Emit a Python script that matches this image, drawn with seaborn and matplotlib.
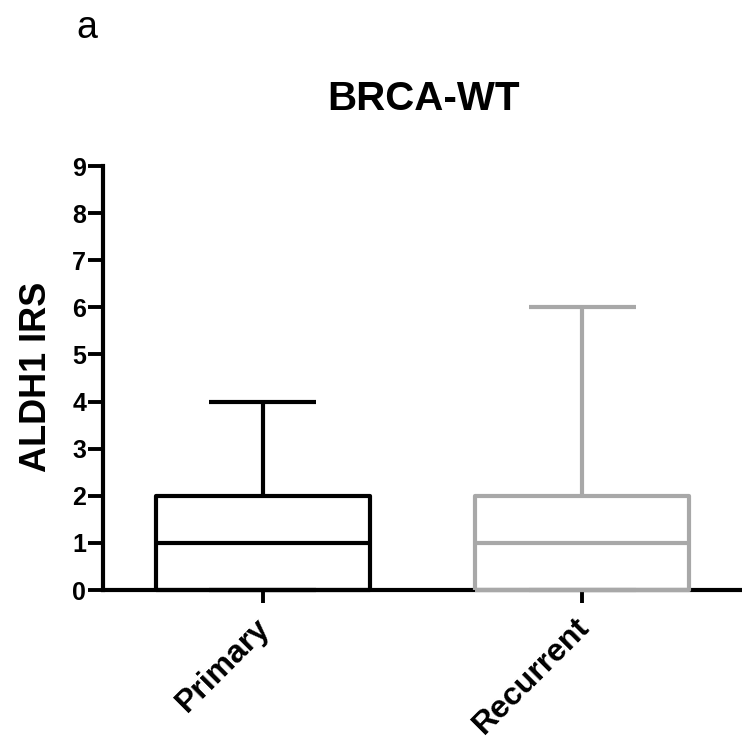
import matplotlib
matplotlib.use("Agg")
import matplotlib.pyplot as plt
import matplotlib.transforms as mtransforms
import seaborn as sns
import pandas as pd

groups = ["Primary", "Recurrent"]
# five-number summaries: min, Q1, median, Q3, max
primary_stats = [0, 0, 1, 2, 4]
recurrent_stats = [0, 0, 1, 2, 6]
yticks = list(range(0, 10))
colors = ["#000000", "#a8a8a8"]

df = pd.DataFrame({
    "group": [groups[0]] * len(primary_stats) + [groups[1]] * len(recurrent_stats),
    "value": primary_stats + recurrent_stats,
})

sns.set_style("white")
plt.rcParams['font.family'] = ['Liberation Sans', 'DejaVu Sans']
plt.rcParams['text.color'] = 'black'
plt.rcParams['axes.labelcolor'] = 'black'
plt.rcParams['xtick.color'] = 'black'
plt.rcParams['ytick.color'] = 'black'

fig = plt.figure(figsize=(7.42, 7.40), dpi=100)
ax = fig.add_axes([103 / 742, 150 / 740, 639 / 742, 424 / 740])

sns.boxplot(data=df, x="group", y="value", hue="group", order=groups,
            hue_order=groups, palette=colors, fill=False, whis=(0, 100),
            width=0.67, linewidth=3, legend=False, ax=ax)

for ln in ax.lines:
    ln.set_zorder(3)
    ln.set_clip_on(False)
    ln.set_solid_capstyle("butt")

ax.set_xlim(-0.5, 1.5)
ax.set_ylim(0, 9)
ax.set_yticks(yticks)
ax.set_xlabel("")
ax.set_ylabel("")

for s in ["top", "right"]:
    ax.spines[s].set_visible(False)
for s in ["left", "bottom"]:
    ax.spines[s].set_linewidth(3)
    ax.spines[s].set_color("black")
ax.spines["left"].set_bounds(0, 9)

ax.tick_params(axis="both", direction="out", width=2.8,
               color="black", labelcolor="black", left=True, bottom=True)
ax.tick_params(axis="y", labelsize=18, pad=1, length=11)
ax.tick_params(axis="x", pad=3, length=9.5)
for lab in ax.get_yticklabels():
    lab.set_fontweight("bold")
ax.set_xticks(range(len(groups)))
ax.set_xticklabels(groups, rotation=45, ha="right", rotation_mode="anchor",
                   fontweight="bold", fontsize=23)
offset = mtransforms.ScaledTranslation(-8 / 100, -5 / 100, fig.dpi_scale_trans)
for lab in ax.get_xticklabels():
    lab.set_transform(lab.get_transform() + offset)

fig.text(424 / 742, 1 - 99 / 740, "BRCA-WT", ha="center", va="center",
         fontsize=29, fontweight="bold")
fig.text(87 / 742, 1 - 38 / 740, "a", ha="center", va="baseline", fontsize=27)
fig.text(37 / 742, 1 - 377 / 740, "ALDH1 IRS", ha="center", va="center",
         rotation=90, fontsize=26, fontweight="bold")

fig.savefig("out.png", dpi=100)
